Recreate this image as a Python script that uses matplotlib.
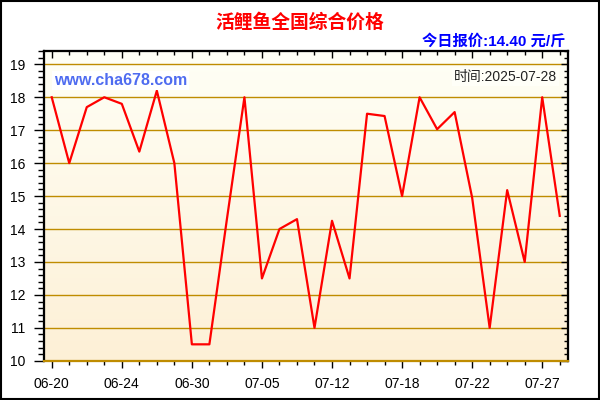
import numpy as np
import matplotlib
matplotlib.use("Agg")
import matplotlib.pyplot as plt
from matplotlib.ticker import FixedLocator, MultipleLocator
from matplotlib.patches import Rectangle

plt.rcParams['font.family'] = ['Liberation Sans', 'Noto Sans CJK SC', 'DejaVu Sans']

# daily prices, one point per day shown (30 points)
prices = [18.0, 16.0, 17.7, 18.0, 17.8, 16.35, 18.2, 16.0, 10.5, 10.5,
          14.3, 18.0, 12.5, 14.0, 14.3, 11.0, 14.25, 12.5, 17.5, 17.43,
          15.0, 18.0, 17.03, 17.55, 14.95, 11.0, 15.18, 13.0, 18.0, 14.4]
tick_pos = [0, 4, 8, 12, 16, 20, 24, 28]
tick_labels = ['06-20', '06-24', '06-30', '07-05', '07-12', '07-18', '07-22', '07-27']
y_ticks = [10, 11, 12, 13, 14, 15, 16, 17, 18, 19]

title = '活鲤鱼全国综合价格'
today = '今日报价:14.40 元/斤'
stamp = '时间:2025-07-28'
site = 'www.cha678.com'

XLIM = (-0.47, 29.49)
YLIM = (10, 19.41)

fig = plt.figure(figsize=(6, 4), dpi=100)
fig.patch.set_facecolor('white')
ax = fig.add_axes([0.0725, 0.098, 0.8747, 0.775])

x = np.arange(len(prices))

# background gradient, pale at top, tan at bottom
grad = np.linspace(0, 1, 256).reshape(-1, 1)
top_c = np.array([255, 255, 246]) / 255
bot_c = np.array([253, 240, 214]) / 255
img = top_c + (bot_c - top_c) * grad
ax.imshow(img.reshape(256, 1, 3), extent=[0, 1, 0, 1], transform=ax.transAxes,
          aspect='auto', origin='upper', zorder=0)
ax.set_xlim(*XLIM)
ax.set_ylim(*YLIM)

for yv in y_ticks:
    ax.axhline(yv, color='#BF8C00', lw=1.0, zorder=1)

ax.plot(x, prices, color='#FF0000', lw=1.6, zorder=3)

# bottom / left ticks, pointing out
ax.xaxis.set_major_locator(FixedLocator(tick_pos))
ax.xaxis.set_minor_locator(MultipleLocator(1))
ax.set_xticklabels(tick_labels)
ax.yaxis.set_major_locator(FixedLocator(y_ticks))
ax.yaxis.set_minor_locator(MultipleLocator(0.2))
ax.tick_params(axis='x', which='major', direction='out', length=5, width=1,
               labelsize=10, pad=7)
ax.tick_params(axis='x', which='minor', direction='out', length=3, width=1)
ax.tick_params(axis='y', which='major', direction='out', length=7, width=1,
               labelsize=10, pad=6)
ax.tick_params(axis='y', which='minor', direction='out', length=4, width=1)

# top / right ticks, pointing in
axt = ax.twiny()
axt.set_xlim(*XLIM)
axt.xaxis.set_major_locator(FixedLocator(tick_pos))
axt.xaxis.set_minor_locator(MultipleLocator(1))
axt.tick_params(axis='x', which='major', direction='in', length=5, width=1, labeltop=False)
axt.tick_params(axis='x', which='minor', direction='in', length=3, width=1)
axr = ax.twinx()
axr.set_ylim(*YLIM)
axr.yaxis.set_major_locator(FixedLocator(y_ticks))
axr.yaxis.set_minor_locator(MultipleLocator(0.2))
axr.tick_params(axis='y', which='major', direction='in', length=5, width=1, labelright=False)
axr.tick_params(axis='y', which='minor', direction='in', length=3, width=1)

for a in (ax, axt, axr):
    for s in a.spines.values():
        s.set_color('black')
        s.set_linewidth(1.5)
    a.spines['bottom'].set_color('#BF8C00')

ax.text(0.02, 0.905, site, transform=ax.transAxes, color='#4F6CF0',
        fontsize=11.5, fontweight='bold', va='center', ha='left', zorder=4,
        bbox=dict(facecolor='white', edgecolor='none', pad=1.5))
ax.text(0.978, 0.915, stamp, transform=ax.transAxes, color='#222222',
        fontsize=10, va='center', ha='right', zorder=4,
        bbox=dict(facecolor='#FFFFF8', edgecolor='none', pad=1.5))

fig.text(0.5, 0.943, title, color='#FF0000', fontsize=13.5, fontweight='bold',
         ha='center', va='center')
fig.text(0.942, 0.897, today, color='#0000FF', fontsize=11, fontweight='bold',
         ha='right', va='center')

fig.patches.append(Rectangle((0.001, 0.002), 0.997, 0.996, transform=fig.transFigure,
                             fill=False, edgecolor='black', lw=1.5))

fig.savefig('out.png', dpi=100)
